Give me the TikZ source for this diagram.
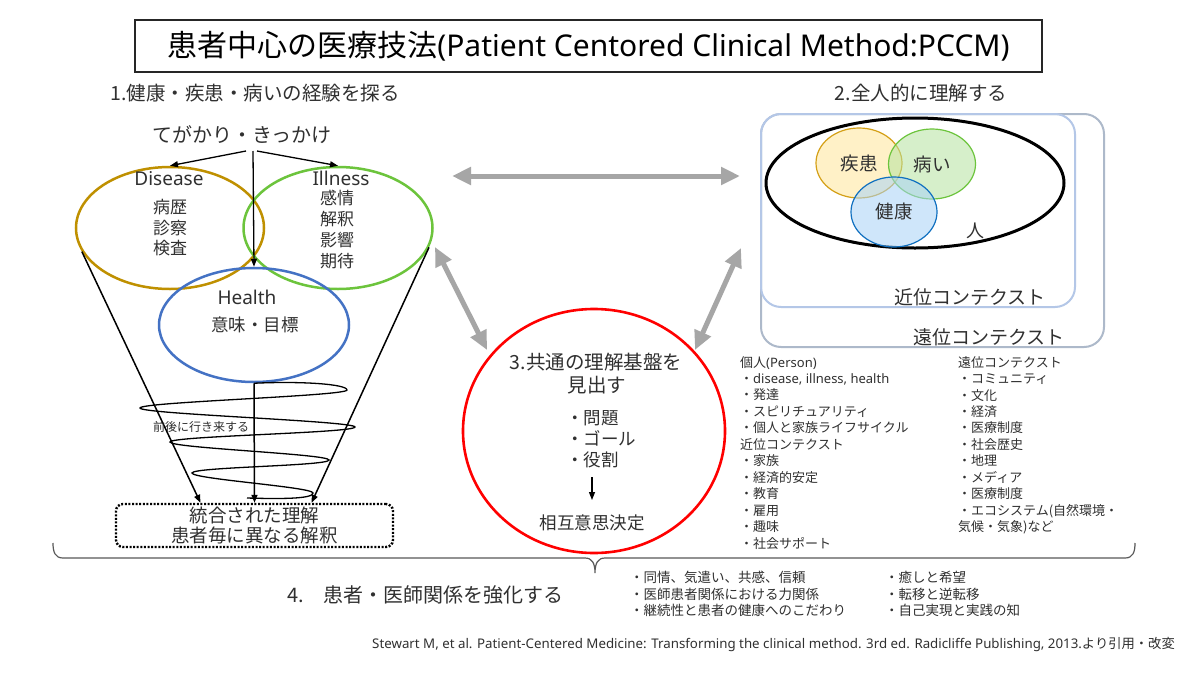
\documentclass[tikz,border=0pt]{standalone}
\usepackage{fontspec}
\setmainfont{Noto Sans CJK JP}
\newfontfamily\lat{Noto Sans}
\usetikzlibrary{arrows.meta,shapes.geometric,calc}
\definecolor{txtc}{HTML}{303030}
\definecolor{cdis}{HTML}{BF9000}
\definecolor{cill}{HTML}{6CC43C}
\definecolor{chea}{HTML}{4472C4}
\definecolor{garrowc}{HTML}{A6A6A6}
\definecolor{outerc}{HTML}{ADB9CA}
\definecolor{innerc}{HTML}{B4C7E7}
\definecolor{fdis}{HTML}{FFE699}
\definecolor{ddis}{HTML}{D4A017}
\definecolor{fill}{HTML}{B6E3A0}
\definecolor{dill}{HTML}{6CC43C}
\definecolor{fhea}{HTML}{A9D3F7}
\definecolor{dhea}{HTML}{1070C0}
\definecolor{bracec}{HTML}{595959}
\newcommand{\fs}[2]{\fontsize{#1}{#2}\selectfont}
\begin{document}
\begin{tikzpicture}[x=1pt,y=-1pt,
  every node/.append style={text=txtc, inner sep=0pt},
  ring/.style={ellipse, inner sep=0pt, line width=2.5pt},
  soft/.style={ellipse, inner sep=0pt, line width=1.2pt, fill opacity=0.55, text opacity=1, font=\fs{18.5}{22}},
  barrow/.style={-{Triangle[length=8pt,width=6pt]}, line width=1.3pt, black},
  garr/.style={{Triangle[length=19pt,width=17pt]}-{Triangle[length=19pt,width=17pt]}, line width=5pt, garrowc},
  ctx/.style={draw, rounded corners=20pt, line width=2pt, inner sep=0pt},
  listtext/.style={align=left, anchor=north west},
]
\useasboundingbox (0,0) rectangle (1200,675);
\fill[white] (0,0) rectangle (1200,675);

% title
\node[draw=black!85, line width=1.3pt, minimum width=907pt, minimum height=52pt, font=\fs{30}{34}, text=black] (title) at (588.5,46) {患者中心の医療技法{\lat(Patient Centored Clinical Method:PCCM)}};

% section headings
\node[font=\fs{19.5}{23}] (h1) at (255,93) {1.健康・疾患・病いの経験を探る};
\node[font=\fs{19.5}{23}] (h2) at (921,93) {2.全人的に理解する};

% section 1
\node[font=\fs{20}{24}] (teg) at (242,135) {てがかり・きっかけ};
\node[ring, draw=cdis, minimum width=188pt, minimum height=122pt] (dis) at (170,228) {};
\node[ring, draw=cill, minimum width=189pt, minimum height=122pt] (ill) at (338,228) {};
\node[ring, draw=chea, minimum width=190pt, minimum height=114pt] (hea) at (254,325) {};

\node[font=\fs{19}{22}\lat] (dislab) at (169,179) {Disease};
\node[font=\fs{17}{21}, align=center] (distxt) at (170,228) {病歴\\[-0.5pt]診察\\[-0.5pt]検査};
\node[font=\fs{19}{22}\lat] (illlab) at (341,178) {Illness};
\node[font=\fs{17}{20.7}, align=center] (illtxt) at (337,229.5) {感情\\解釈\\影響\\期待};
\node[font=\fs{19}{22}\lat] (healab) at (247,297) {Health};
\node[font=\fs{17.5}{21}] (heatxt) at (255,325) {意味・目標};

\coordinate (t1) at (246,151);
\coordinate (t2) at (253,151);
\coordinate (t3) at (257,151);
\draw[barrow] (t1) -- (dis.north);
\draw[barrow] (t2) -- (hea.north);
\draw[barrow] (t3) -- (ill.north);

\node[draw=black, line width=2.4pt, dash pattern=on 2pt off 1.6pt, rounded corners=7pt,
      minimum width=277pt, minimum height=43pt, align=center, font=\fs{18.5}{20}] (integ) at (254.5,525.5)
      {統合された理解\\患者毎に異なる解釈};

\draw[barrow, line width=1.5pt] (dis.195) -- ($(integ.north)+(-54,0)$);
\draw[barrow, line width=1.5pt] (ill.-12.4) -- ($(integ.north)+(57,0)$);
\draw[barrow, line width=1.5pt] (hea.south) -- (integ.north);

% back-and-forth spiral
\draw[line width=1.3pt, black] (hea.south)
  .. controls (300,381) and (347,384) .. (347,390)
  .. controls (347,396) and (140,402) .. (140,408)
  .. controls (140,414) and (355,421) .. (355,427)
  .. controls (355,433) and (170,436) .. (170,442)
  .. controls (170,448) and (329,454) .. (329,460)
  .. controls (329,466) and (192,467) .. (192,473)
  .. controls (192,479) and (313,487) .. (313,493)
  .. controls (313,499) and (280,499) .. (247,498);
\node[font=\fs{12}{14}] (back) at (201,427) {前後に行き来する};

% section 2
\node[ctx, draw=outerc, minimum width=343pt, minimum height=233pt] (far) at (932.5,230.5) {};
\node[ctx, draw=innerc, minimum width=314pt, minimum height=193pt] (near) at (918,210.5) {};
\node[ellipse, draw=black, line width=3pt, minimum width=298pt, minimum height=130pt, inner sep=0pt] (person) at (915,183) {};
\node[soft, draw=ddis, fill=fdis, minimum width=86pt, minimum height=70pt] (sick) at (859,163) {疾患};
\node[soft, draw=dill, fill=fill, minimum width=87pt, minimum height=70pt] (ail) at (932,164) {病い};
\node[soft, draw=dhea, fill=fhea, minimum width=86pt, minimum height=70pt] (well) at (894,212) {健康};
\node[font=\fs{18}{21}] (hito) at (975,231) {人};
\node[font=\fs{19}{22}] (nearlab) at (970,297) {近位コンテクスト};
\node[font=\fs{19}{22}] (farlab) at (989,337) {遠位コンテクスト};

% gray arrows
\coordinate (g1a) at (452,176);
\coordinate (g1b) at (740,176);
\coordinate (g2a) at (435,247);
\coordinate (g2b) at (487,350);
\coordinate (g3a) at (741,248);
\coordinate (g3b) at (695,350);
\draw[garr] (g1a) -- (g1b);
\draw[garr] (g2a) -- (g2b);
\draw[garr] (g3a) -- (g3b);

% section 3
\node[ellipse, draw=red, line width=2.6pt, minimum width=262pt, minimum height=244pt, inner sep=0pt] (common) at (594,431) {};
\node[font=\fs{19.5}{23}] (c1) at (596,362) {3.共通の理解基盤を};
\node[font=\fs{19.5}{23}] (c2) at (597,385) {見出す};
\node[font=\fs{17.5}{21}, align=left, anchor=west] (bul) at (566,439) {・問題\\・ゴール\\・役割};
\node[font=\fs{17.5}{21}] (dec) at (592,523) {相互意思決定};
\coordinate (a3s) at (592,477);
\coordinate (a3e) at (592,500);
\draw[barrow] (a3s) -- (a3e);

% context lists
\node[listtext, font=\fs{13}{16.45}] (list1) at (740,356)
 {個人{\lat(Person)}\\・{\lat disease, illness, health}\\・発達\\・スピリチュアリティ\\・個人と家族ライフサイクル\\近位コンテクスト\\・家族\\・経済的安定\\・教育\\・雇用\\・趣味\\・社会サポート};
\node[listtext, font=\fs{13}{16.45}] (list2) at (958,356)
 {遠位コンテクスト\\・コミュニティ\\・文化\\・経済\\・医療制度\\・社会歴史\\・地理\\・メディア\\・医療制度\\・エコシステム(自然環境・\\気候・気象)など};

% brace
\draw[bracec, line width=1.2pt] (53,543)
  .. controls (53,552) and (55,558) .. (63,558) -- (585,558)
  .. controls (592,558) and (595,563) .. (595,573)
  .. controls (595,563) and (598,558) .. (605,558) -- (1125,558)
  .. controls (1133,558) and (1135,552) .. (1135,543);

% section 4
\node[font=\fs{20}{24}, anchor=west] (h4) at (287,595) {4.　患者・医師関係を強化する};
\node[listtext, font=\fs{13.5}{16.5}] (list3) at (630,571)
 {・同情、気遣い、共感、信頼\\・医師患者関係における力関係\\・継続性と患者の健康へのこだわり};
\node[listtext, font=\fs{13.5}{16.5}] (list4) at (885,571)
 {・癒しと希望\\・転移と逆転移\\・自己実現と実践の知};

% citation
\node[font=\fs{13.3}{16}, anchor=east] (cite) at (1175,645)
 {{\lat Stewart M, et al. Patient-Centered Medicine: Transforming the clinical method. 3rd ed. Radicliffe Publishing, 2013.}より引用・改変};
\end{tikzpicture}
\end{document}
